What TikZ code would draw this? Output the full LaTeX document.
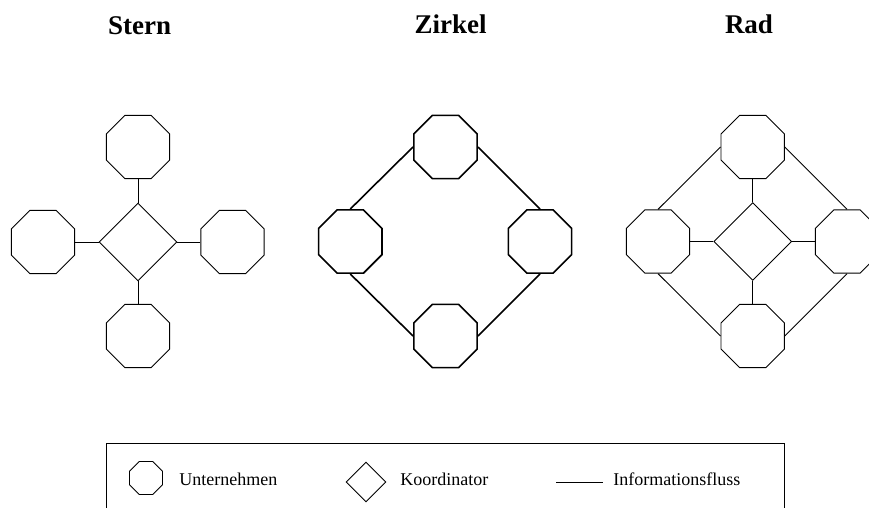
\documentclass[tikz,border=0pt]{standalone}
\usepackage{fontspec}
\setmainfont{Liberation Serif}
\usetikzlibrary{shapes.geometric}

\begin{document}
\begin{tikzpicture}[x=1pt,y=-1pt,line width=0.9pt,
  firma/.style={draw,regular polygon,regular polygon sides=8,minimum size=68.6pt,inner sep=0pt},
  koord/.style={draw,diamond,minimum width=78pt,minimum height=78pt,inner sep=0pt},
  titel/.style={font=\fontsize{27}{30}\selectfont\bfseries,anchor=base},
  legtext/.style={font=\fontsize{18}{20}\selectfont,anchor=base west,inner sep=0pt}]
  \clip (0,0) rectangle (869,508);

  % Stern
  \node[titel] (tstern) at (139.7,35) {Stern};
  \node[koord] (sk) at (138,242) {};
  \node[firma] (sn) at (138,147) {};
  \node[firma] (sw) at (43,242) {};
  \node[firma] (so) at (232.5,242) {};
  \node[firma] (ss) at (138,336) {};
  \draw (sn) -- (sk) (sw) -- (sk) (so) -- (sk) (ss) -- (sk);

  % Zirkel
  \node[titel] (tzirkel) at (450.5,34) {Zirkel};
  \begin{scope}[line width=1.6pt]
    \node[firma] (zn) at (445.5,147) {};
    \node[firma] (zw) at (350.3,241.5) {};
    \node[firma] (zo) at (540,241.5) {};
    \node[firma] (zs) at (445.5,336) {};
    \draw (zw.north) -- (zn.west) (zn.east) -- (zo.north)
          (zo.south) -- (zs.east) (zs.west) -- (zw.south);
  \end{scope}

  % Rad
  \node[titel] (trad) at (749,34) {Rad};
  \node[koord] (rk) at (752.7,241.5) {};
  \node[firma] (rn) at (752.7,147) {};
  \node[firma] (rw) at (658,241.5) {};
  \node[firma] (ro) at (847,241.5) {};
  \node[firma] (rs) at (752.7,336) {};
  \draw (rn) -- (rk) (rw) -- (rk) (ro) -- (rk) (rs) -- (rk);
  \draw (rw.north) -- (rn.west) (rn.east) -- (ro.north)
        (ro.south) -- (rs.east) (rs.west) -- (rw.south);

  % Legende
  \draw (106,508) -- (106,443) -- (784,443) -- (784,508);
  \node[firma,minimum size=35.7pt] (lfirma) at (146,478) {};
  \node[legtext] (tfirma) at (179,485) {Unternehmen};
  \node[koord,minimum width=40pt,minimum height=40pt] (lkoord) at (366,482) {};
  \node[legtext] (tkoord) at (400,485) {Koordinator};
  \coordinate (l1) at (556,482);
  \coordinate (l2) at (603,482);
  \draw (l1) -- (l2);
  \node[legtext] (tfluss) at (613,485) {Informationsfluss};
\end{tikzpicture}
\end{document}
